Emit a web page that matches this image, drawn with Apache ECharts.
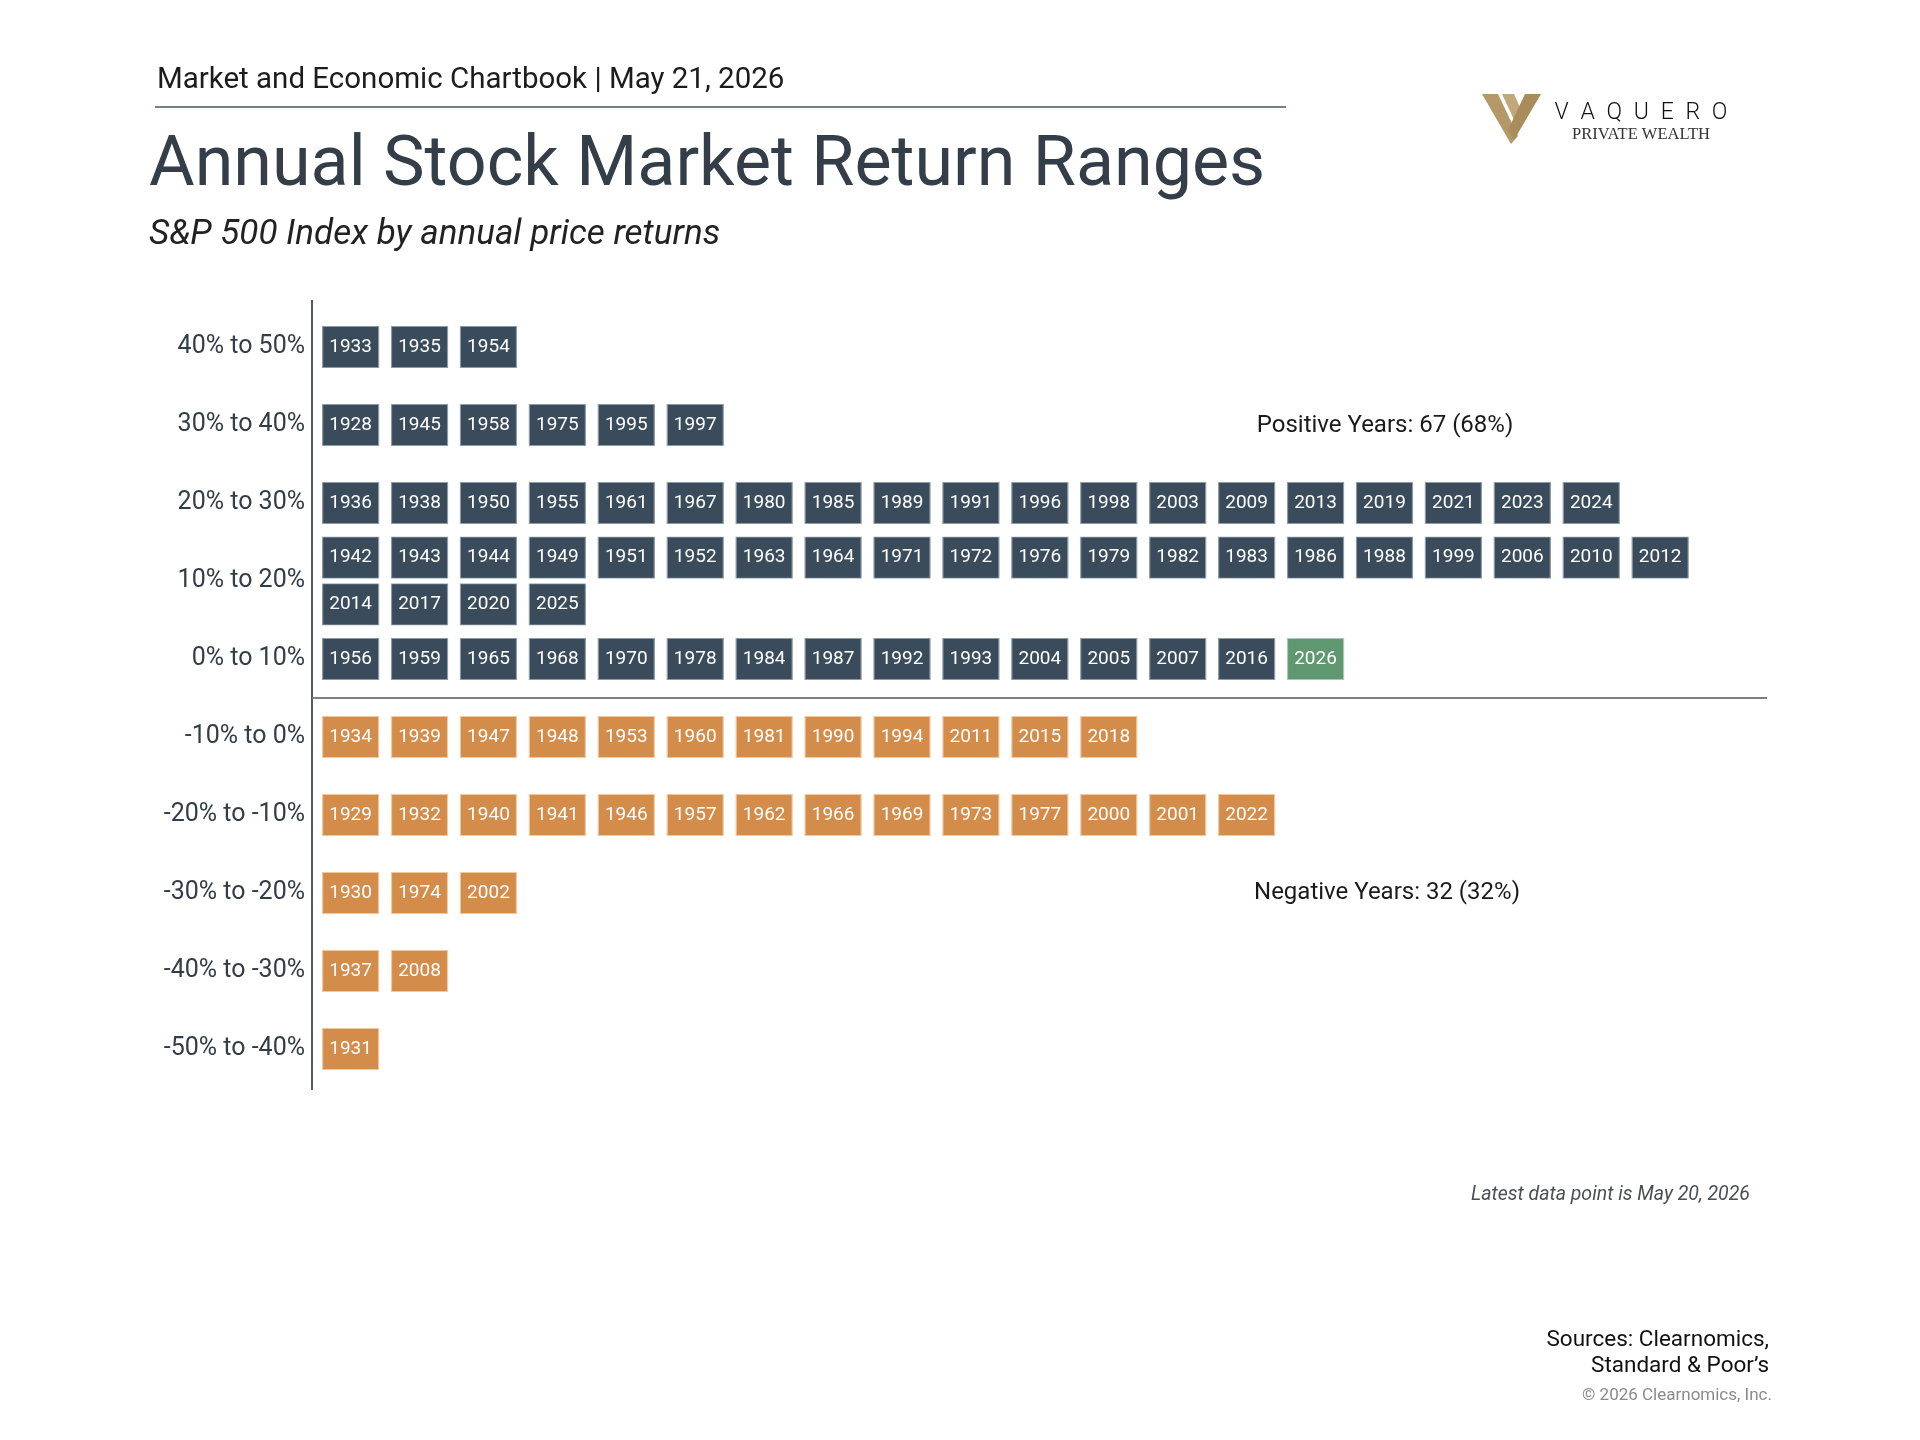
<!DOCTYPE html>
<html>
<head>
<meta charset="utf-8">
<title>Annual Stock Market Return Ranges</title>
<script src="https://cdn.jsdelivr.net/npm/echarts@6.0.0/dist/echarts.min.js"></script>
<style>
  html, body { margin: 0; padding: 0; background: #fff; }
  #chart { width: 1920px; height: 1440px; }
</style>
</head>
<body>
<div id="chart"></div>
<script>
// return ranges, top to bottom
var rangeLabels = ['40% to 50%', '30% to 40%', '20% to 30%', '10% to 20%', '0% to 10%',
    '-10% to 0%', '-20% to -10%', '-30% to -20%', '-40% to -30%', '-50% to -40%'];

// years falling in each range
var years40to50 = [1933, 1935, 1954];
var years30to40 = [1928, 1945, 1958, 1975, 1995, 1997];
var years20to30 = [1936, 1938, 1950, 1955, 1961, 1967, 1980, 1985, 1989, 1991, 1996, 1998,
    2003, 2009, 2013, 2019, 2021, 2023, 2024];
var years10to20 = [1942, 1943, 1944, 1949, 1951, 1952, 1963, 1964, 1971, 1972, 1976, 1979,
    1982, 1983, 1986, 1988, 1999, 2006, 2010, 2012, 2014, 2017, 2020, 2025];
var years0to10 = [1956, 1959, 1965, 1968, 1970, 1978, 1984, 1987, 1992, 1993, 2004, 2005,
    2007, 2016, 2026];
var yearsMinus10to0 = [1934, 1939, 1947, 1948, 1953, 1960, 1981, 1990, 1994, 2011, 2015, 2018];
var yearsMinus20to10 = [1929, 1932, 1940, 1941, 1946, 1957, 1962, 1966, 1969, 1973, 1977,
    2000, 2001, 2022];
var yearsMinus30to20 = [1930, 1974, 2002];
var yearsMinus40to30 = [1937, 2008];
var yearsMinus50to40 = [1931];

var yearsByRange = [years40to50, years30to40, years20to30, years10to20, years0to10,
    yearsMinus10to0, yearsMinus20to10, yearsMinus30to20, yearsMinus40to30, yearsMinus50to40];

var firstNegativeRange = 5;
var currentYear = 2026;
var perRow = 20;

var positiveText = 'Positive Years: 67 (68%)';
var negativeText = 'Negative Years: 32 (32%)';

var FONT = "'Source Sans Pro', 'Roboto', sans-serif";
var DARK = '#3a4c5b';
var ORANGE = '#d48c4b';
var GREEN = '#5f9770';

var positivePts = [];
var negativePts = [];
var currentPts = [];

yearsByRange.forEach(function (years, r) {
    var rows = Math.ceil(years.length / perRow);
    years.forEach(function (year, j) {
        var col = j % perRow;
        var sub = Math.floor(j / perRow);
        var y = r + 0.5 + (sub - (rows - 1) / 2) * 0.6;
        var pt = [col, y, year];
        if (year === currentYear) {
            currentPts.push(pt);
        } else if (r < firstNegativeRange) {
            positivePts.push(pt);
        } else {
            negativePts.push(pt);
        }
    });
});

function boxSeries(name, data, color, border) {
    return {
        name: name,
        type: 'scatter',
        xAxisIndex: 0,
        yAxisIndex: 1,
        symbol: 'rect',
        symbolSize: [56, 41],
        data: data,
        itemStyle: { color: color, borderColor: border, borderWidth: 1, opacity: 1 },
        label: {
            show: true,
            position: 'inside',
            formatter: function (p) { return p.value[2]; },
            color: '#ffffff',
            fontFamily: FONT,
            fontSize: 19
        },
        emphasis: { disabled: true },
        silent: true,
        z: 3
    };
}

var chart = echarts.init(document.getElementById('chart'), null, { renderer: 'canvas' });

var xMin = -0.56;
var xMax = 20.55;

var option = {
    animation: false,
    backgroundColor: '#ffffff',
    grid: { left: 312, right: 153, top: 308, height: 780 },
    xAxis: {
        type: 'value',
        min: xMin,
        max: xMax,
        show: false
    },
    yAxis: [
        {
            type: 'category',
            data: rangeLabels,
            inverse: true,
            axisLine: { show: true, onZero: false, lineStyle: { color: '#555b61', width: 2 } },
            axisTick: { show: false },
            splitLine: { show: false },
            axisLabel: { color: '#333d47', fontFamily: FONT, fontSize: 25, margin: 7 }
        },
        {
            type: 'value',
            min: 0,
            max: 10,
            inverse: true,
            show: false
        }
    ],
    series: [
        boxSeries('Positive', positivePts, DARK, '#8d9ba6'),
        boxSeries('Negative', negativePts, ORANGE, '#f1c99f'),
        boxSeries('Current', currentPts, GREEN, '#a9c9b1'),
        {
            type: 'line',
            yAxisIndex: 1,
            data: [],
            silent: true,
            markLine: {
                symbol: 'none',
                silent: true,
                label: { show: false },
                lineStyle: { color: '#7a7f84', width: 2, type: 'solid' },
                data: [[{ coord: [xMin, firstNegativeRange] }, { coord: [xMax, firstNegativeRange] }]]
            }
        }
    ],
    graphic: [
        { type: 'line', shape: { x1: 312, y1: 300, x2: 312, y2: 1090 },
          style: { stroke: '#555b61', lineWidth: 2 } },
        { type: 'text', x: 157, y: 81,
          style: { text: 'Market and Economic Chartbook | May 21, 2026', fill: '#1c1c1c',
                   font: '29.5px ' + FONT, verticalAlign: 'middle' } },
        { type: 'line', shape: { x1: 155, y1: 107, x2: 1286, y2: 107 },
          style: { stroke: '#4b5663', lineWidth: 1.5 } },
        { type: 'text', x: 149, y: 167,
          style: { text: 'Annual Stock Market Return Ranges', fill: '#333e48',
                   font: '70px ' + FONT, verticalAlign: 'middle' } },
        { type: 'text', x: 149, y: 235,
          style: { text: 'S&P 500 Index by annual price returns', fill: '#222222',
                   font: 'italic 35px ' + FONT, verticalAlign: 'middle' } },
        { type: 'text', x: 1385, y: 426,
          style: { text: positiveText, fill: '#1a1a1a', font: '24px ' + FONT,
                   align: 'center', verticalAlign: 'middle' } },
        { type: 'text', x: 1387, y: 893,
          style: { text: negativeText, fill: '#1a1a1a', font: '24px ' + FONT,
                   align: 'center', verticalAlign: 'middle' } },
        { type: 'text', x: 1750, y: 1195,
          style: { text: 'Latest data point is May 20, 2026', fill: '#4a4f55',
                   font: 'italic 19.5px ' + FONT, align: 'right', verticalAlign: 'middle' } },
        { type: 'text', x: 1769, y: 1340,
          style: { text: 'Sources: Clearnomics,', fill: '#111111',
                   font: '22.5px ' + FONT, align: 'right', verticalAlign: 'middle' } },
        { type: 'text', x: 1769, y: 1366,
          style: { text: 'Standard & Poor\u2019s', fill: '#111111',
                   font: '22.5px ' + FONT, align: 'right', verticalAlign: 'middle' } },
        { type: 'text', x: 1772, y: 1396,
          style: { text: '\u00a9 2026 Clearnomics, Inc.', fill: '#8a8a8a',
                   font: '17px ' + FONT, align: 'right', verticalAlign: 'middle' } },
        // logo mark
        { type: 'polygon', shape: { points: [[1482, 94], [1498, 94], [1518, 136], [1511, 144]] },
          style: { fill: '#b49868' } },
        { type: 'polygon', shape: { points: [[1502, 94], [1514, 94], [1522, 112], [1516, 124]] },
          style: { fill: '#c2a878' } },
        { type: 'polygon', shape: { points: [[1525, 94], [1541, 94], [1514, 140], [1508, 130]] },
          style: { fill: '#a98c5b' } },
        { type: 'text', x: 1641, y: 113,
          style: { text: 'V\u2002A\u2002Q\u2002U\u2002E\u2002R\u2002O', fill: '#111111',
                   font: '300 23px ' + FONT, align: 'center', verticalAlign: 'middle' } },
        { type: 'text', x: 1641, y: 135,
          style: { text: 'PRIVATE WEALTH', fill: '#333333',
                   font: '16.5px "Liberation Serif", "DejaVu Serif", serif',
                   align: 'center', verticalAlign: 'middle' } }
    ]
};

chart.setOption(option);
</script>
</body>
</html>
